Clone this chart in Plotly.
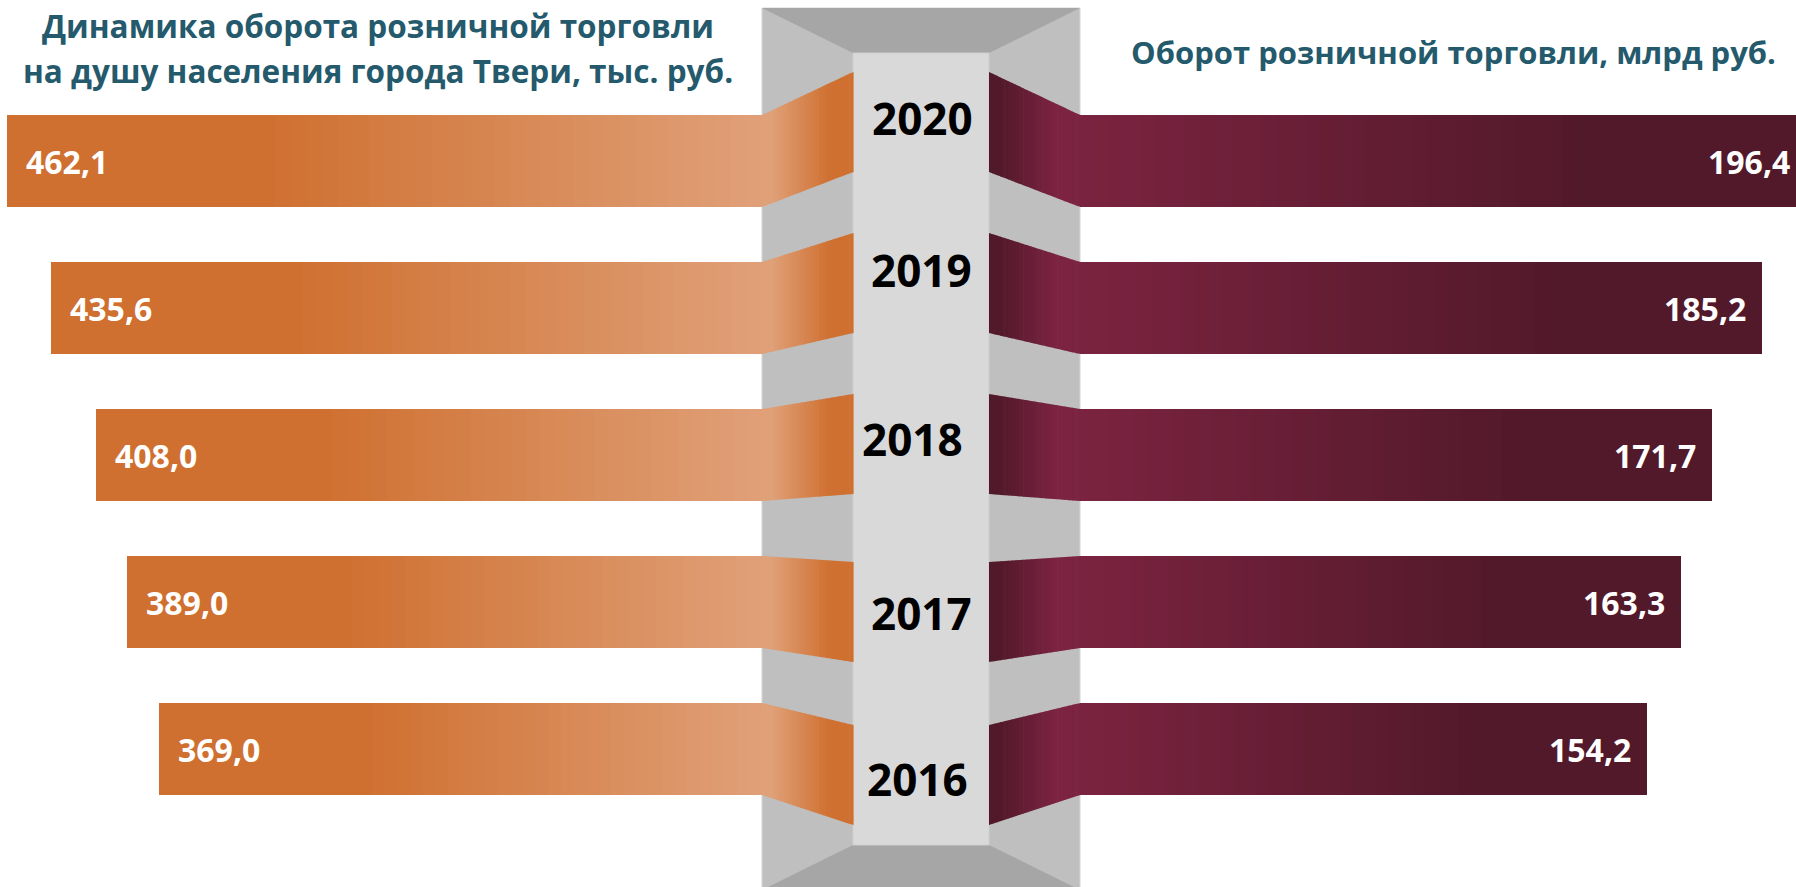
import plotly.graph_objects as go

# ---------------- data ----------------
years = [2016, 2017, 2018, 2019, 2020]
year_labels = ["2016", "2017", "2018", "2019", "2020"]
per_capita = [369.0, 389.0, 408.0, 435.6, 462.1]      # тыс. руб. на душу населения
turnover = [154.2, 163.3, 171.7, 185.2, 196.4]        # млрд руб.
left_title = ["Динамика оборота розничной торговли",
              "на душу населения города Твери, тыс. руб."]
right_title = "Оборот розничной торговли, млрд руб."

# ---------------- styling / geometry ----------------
W, H = 1796, 887
ROW_PX = 147.0            # px between rows
TOP_C = 161.0             # px centre of top row
BAR_PX = 92.0
Y_MAX = years[-1] + TOP_C / ROW_PX
Y_MIN = Y_MAX - H / ROW_PX
BAR_W = BAR_PX / ROW_PX

L_ZERO = 762.0            # px where left bars start (centre side)
R_ZERO = 1080.0           # px where right bars start
L_SCALE = 1.633           # px per unit (left)
R_SCALE = 3.68            # px per unit (right)
IN_L, IN_R = 853.0, 989.0 # inner column edges
R_MAX = (W - R_ZERO) / R_SCALE

DARK_OR, LIGHT_OR = (207, 112, 48), (224, 160, 120)
LIGHT_MR, DARK_MR = (123, 35, 64), (82, 25, 42)
TITLE_C = "#245a6c"
FONT = "Open Sans"

# connector inner shifts (px, top edge relative to outer top) and year label placement
inner_shift = [22, 6, -15, -29, -43]
label_x = [917, 921, 913, 921, 922]
label_dy = [30, 11, -16, -38, -43]


def lerp(c1, c2, t):
    t = max(0.0, min(1.0, t))
    return "rgb(%d,%d,%d)" % tuple(round(a + (b - a) * t) for a, b in zip(c1, c2))


def fmt(v):
    return f"{v:.1f}".replace(".", ",")


def xp(x):
    return x / W


def yp(y):
    return 1 - y / H


def centre_px(year):
    return TOP_C + (years[-1] - year) * ROW_PX


fig = go.Figure()

# gradient bars: overlapping segments, each from f*v to the outer end
N = 48
for i in range(N):
    f = i / N
    fm = (i + 0.5) / N
    fig.add_trace(go.Bar(
        orientation="h", y=years,
        x=[v * (1 - f) for v in per_capita], base=[v * f for v in per_capita],
        width=BAR_W, marker=dict(color=lerp(LIGHT_OR, DARK_OR, fm / 0.66), line=dict(width=0)),
        xaxis="x", yaxis="y", hoverinfo="skip", showlegend=False))
    fig.add_trace(go.Bar(
        orientation="h", y=years,
        x=[v * (1 - f) for v in turnover], base=[v * f for v in turnover],
        width=BAR_W, marker=dict(color=lerp(LIGHT_MR, DARK_MR, fm / 0.7), line=dict(width=0)),
        xaxis="x2", yaxis="y", hoverinfo="skip", showlegend=False))

shapes = []
# outer frame (side panels)
shapes.append(dict(type="rect", xref="paper", yref="paper", x0=xp(L_ZERO), x1=xp(R_ZERO),
                   y0=yp(H + 10), y1=yp(8), fillcolor="#bfbfbf",
                   line=dict(color="#d4d4d4", width=1), layer="below"))
# top trapezoid
shapes.append(dict(type="path", xref="paper", yref="paper",
                   path=f"M{xp(L_ZERO)},{yp(8)} L{xp(R_ZERO)},{yp(8)} L{xp(IN_R)},{yp(53)} L{xp(IN_L)},{yp(53)} Z",
                   fillcolor="#a6a6a6", line=dict(width=0), layer="below"))
# bottom trapezoid
shapes.append(dict(type="path", xref="paper", yref="paper",
                   path=f"M{xp(IN_L)},{yp(845)} L{xp(IN_R)},{yp(845)} L{xp(R_ZERO)},{yp(890)} L{xp(L_ZERO)},{yp(890)} Z",
                   fillcolor="#a6a6a6", line=dict(width=0), layer="below"))
# inner column
shapes.append(dict(type="rect", xref="paper", yref="paper", x0=xp(IN_L), x1=xp(IN_R),
                   y0=yp(845), y1=yp(53), fillcolor="#d9d9d9",
                   line=dict(color="#cfcfcf", width=1), layer="below"))

# connectors (gradient strips)
S = 24
for k, yr in enumerate(years):
    c = centre_px(yr)
    o_top, o_bot = c - BAR_PX / 2, c + BAR_PX / 2
    i_top = o_top + inner_shift[k]
    i_bot = i_top + 100
    for j in range(S):
        a, b = j / S, (j + 1) / S
        # left: outer (x=L_ZERO) -> inner (x=IN_L)
        xa, xb = L_ZERO + (IN_L - L_ZERO) * a, L_ZERO + (IN_L - L_ZERO) * b + 0.6
        ta = o_top + (i_top - o_top) * a
        tb = o_top + (i_top - o_top) * min(1, b + 0.6 / (IN_L - L_ZERO))
        ba = o_bot + (i_bot - o_bot) * a
        bb = o_bot + (i_bot - o_bot) * min(1, b + 0.6 / (IN_L - L_ZERO))
        xm = (xa + xb) / 2
        col = lerp(LIGHT_OR, DARK_OR, (xm - 772) / (830 - 772))
        shapes.append(dict(type="path", xref="paper", yref="paper",
                           path=f"M{xp(xa)},{yp(ta)} L{xp(xb)},{yp(tb)} L{xp(xb)},{yp(bb)} L{xp(xa)},{yp(ba)} Z",
                           fillcolor=col, line=dict(width=0), layer="below"))
        # right: inner (x=IN_R) -> outer (x=R_ZERO)
        xa2, xb2 = IN_R + (R_ZERO - IN_R) * a, IN_R + (R_ZERO - IN_R) * b + 0.6
        ta2 = i_top + (o_top - i_top) * a
        tb2 = i_top + (o_top - i_top) * min(1, b + 0.6 / (R_ZERO - IN_R))
        ba2 = i_bot + (o_bot - i_bot) * a
        bb2 = i_bot + (o_bot - i_bot) * min(1, b + 0.6 / (R_ZERO - IN_R))
        xm2 = (xa2 + xb2) / 2
        col2 = lerp(DARK_MR, LIGHT_MR, (xm2 - 1000) / (1055 - 1000))
        shapes.append(dict(type="path", xref="paper", yref="paper",
                           path=f"M{xp(xa2)},{yp(ta2)} L{xp(xb2)},{yp(tb2)} L{xp(xb2)},{yp(bb2)} L{xp(xa2)},{yp(ba2)} Z",
                           fillcolor=col2, line=dict(width=0), layer="below"))

annotations = []
# value labels
for yr, v in zip(years, per_capita):
    annotations.append(dict(xref="x", yref="y", x=v, y=yr, text=f"<b>{fmt(v)}</b>",
                            xanchor="left", yanchor="middle", xshift=17, showarrow=False,
                            font=dict(family=FONT, size=32, color="white")))
for yr, v in zip(years, turnover):
    # bars running past the right edge are labelled at the edge
    annotations.append(dict(xref="x2", yref="y", x=min(v, R_MAX), y=yr, text=f"<b>{fmt(v)}</b>",
                            xanchor="right", yanchor="middle",
                            xshift=-14 if v <= R_MAX else -4, showarrow=False,
                            font=dict(family=FONT, size=32, color="white")))
# year labels
for k, (yr, lab) in enumerate(zip(years, year_labels)):
    annotations.append(dict(xref="paper", yref="y", x=xp(label_x[k]), y=yr, text=f"<b>{lab}</b>",
                            xanchor="center", yanchor="middle", yshift=-label_dy[k], showarrow=False,
                            font=dict(family=FONT, size=44, color="black")))
# titles
annotations.append(dict(xref="paper", yref="paper", x=xp(378), y=yp(25), text=f"<b>{left_title[0]}</b>",
                        xanchor="center", yanchor="middle", showarrow=False,
                        font=dict(family=FONT, size=31.5, color=TITLE_C)))
annotations.append(dict(xref="paper", yref="paper", x=xp(378), y=yp(70), text=f"<b>{left_title[1]}</b>",
                        xanchor="center", yanchor="middle", showarrow=False,
                        font=dict(family=FONT, size=31.5, color=TITLE_C)))
annotations.append(dict(xref="paper", yref="paper", x=xp(1453), y=yp(52), text=f"<b>{right_title}</b>",
                        xanchor="center", yanchor="middle", showarrow=False,
                        font=dict(family=FONT, size=31, color=TITLE_C)))

fig.update_layout(
    width=W, height=H, margin=dict(l=0, r=0, t=0, b=0, pad=0),
    paper_bgcolor="white", plot_bgcolor="rgba(0,0,0,0)",
    barmode="overlay", bargap=0, showlegend=False,
    xaxis=dict(domain=[0, xp(L_ZERO)], range=[L_ZERO / L_SCALE, 0], visible=False, fixedrange=True),
    xaxis2=dict(domain=[xp(R_ZERO), 1], range=[0, R_MAX], visible=False,
                anchor="y", fixedrange=True),
    yaxis=dict(range=[Y_MIN, Y_MAX], visible=False, fixedrange=True),
    shapes=shapes, annotations=annotations,
)

fig.write_html("out.html", config={"displayModeBar": False},
               post_script="document.body.style.margin='0';document.body.style.overflow='hidden';")
